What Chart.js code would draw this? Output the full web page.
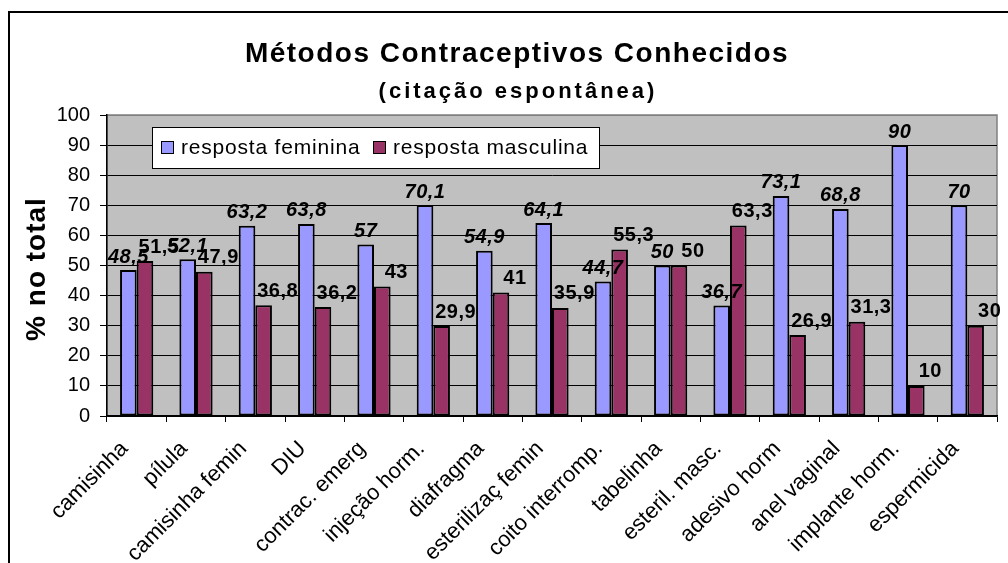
<!DOCTYPE html>
<html>
<head>
<meta charset="utf-8">
<script src="https://cdn.jsdelivr.net/npm/chart.js@4/dist/chart.umd.min.js"></script>
<style>
  html, body { margin: 0; padding: 0; background: #fff; }
  #wrap { width: 1008px; height: 563px; }
</style>
</head>
<body>
<div id="wrap"><canvas id="metodosChart"></canvas></div>
<script>
const FONTE = '"Liberation Sans", Arial, sans-serif';

const categorias = ['camisinha', 'pílula', 'camisinha femin', 'DIU', 'contrac. emerg',
  'injeção horm.', 'diafragma', 'esterilizaç femin', 'coito interromp.', 'tabelinha',
  'esteril. masc.', 'adesivo horm', 'anel vaginal', 'implante horm.', 'espermicida'];
const respFeminina = [48.5, 52.1, 63.2, 63.8, 57, 70.1, 54.9, 64.1, 44.7, 50, 36.7, 73.1, 68.8, 90, 70];
const respMasculina = [51.5, 47.9, 36.8, 36.2, 43, 29.9, 41, 35.9, 55.3, 50, 63.3, 26.9, 31.3, 10, 30];
const yTicks = [0, 10, 20, 30, 40, 50, 60, 70, 80, 90, 100];
const nomesSeries = ['resposta feminina', 'resposta masculina'];
const titulo = 'Métodos Contraceptivos Conhecidos';
const subtitulo = '(citação espontânea)';
const tituloEixoY = '% no total';

const corFem = '#9999ff';
const corMasc = '#993366';

const fmt = v => String(v).replace('.', ',');

// fundo cinza, moldura, títulos, rótulos e legenda desenhados à mão
const extras = {
  id: 'extras',
  beforeDraw(chart) {
    const { ctx, chartArea: a } = chart;
    ctx.save();
    ctx.fillStyle = '#c0c0c0';
    ctx.fillRect(a.left, a.top, a.right - a.left, a.bottom - a.top);
    ctx.strokeStyle = '#808080';
    ctx.lineWidth = 1.5;
    ctx.strokeRect(a.left, a.top, a.right - a.left, a.bottom - a.top);

    ctx.strokeStyle = '#000';
    ctx.lineWidth = 2;
    ctx.strokeRect(9, 12, 1100, 700);

    ctx.fillStyle = '#000';
    ctx.textAlign = 'center';
    ctx.textBaseline = 'alphabetic';
    ctx.letterSpacing = '1.5px';
    ctx.font = 'bold 28px ' + FONTE;
    ctx.fillText(titulo, 517, 62);
    ctx.letterSpacing = '3px';
    ctx.font = 'bold 22px ' + FONTE;
    ctx.fillText(subtitulo, 518, 98);

    ctx.translate(37, 269);
    ctx.rotate(-Math.PI / 2);
    ctx.textBaseline = 'middle';
    ctx.letterSpacing = '1px';
    ctx.font = 'bold 28px ' + FONTE;
    ctx.fillText(tituloEixoY, 0, 0);
    ctx.restore();
  },
  afterDatasetsDraw(chart) {
    const { ctx } = chart;
    ctx.save();
    ctx.fillStyle = '#000';
    ctx.textAlign = 'center';
    ctx.textBaseline = 'middle';
    ctx.letterSpacing = '0.5px';
    chart.getDatasetMeta(0).data.forEach((bar, i) => {
      ctx.font = 'italic bold 20px ' + FONTE;
      ctx.fillText(fmt(respFeminina[i]), bar.x, bar.y - 13);
    });
    chart.getDatasetMeta(1).data.forEach((bar, i) => {
      ctx.font = 'bold 20px ' + FONTE;
      ctx.fillText(fmt(respMasculina[i]), bar.x + 14, bar.y - 14);
    });

    // legenda dentro da área do gráfico
    const lx = 152, ly = 127, lw = 447, lh = 41;
    ctx.fillStyle = '#fff';
    ctx.fillRect(lx, ly, lw, lh);
    ctx.strokeStyle = '#000';
    ctx.lineWidth = 1;
    ctx.strokeRect(lx + 0.5, ly + 0.5, lw, lh);
    ctx.font = '21px ' + FONTE;
    ctx.textAlign = 'left';
    ctx.letterSpacing = '0.8px';
    const itens = [[161, corFem], [373, corMasc]];
    itens.forEach(([x, cor], k) => {
      ctx.fillStyle = cor;
      ctx.fillRect(x, 141, 12, 12);
      ctx.strokeRect(x + 0.5, 141.5, 12, 12);
      ctx.fillStyle = '#000';
      ctx.fillText(nomesSeries[k], x + 20, 148);
    });
    ctx.restore();
  }
};

new Chart(document.getElementById('metodosChart'), {
  type: 'bar',
  data: {
    labels: categorias,
    datasets: [
      { label: nomesSeries[0], data: respFeminina, backgroundColor: corFem,
        borderColor: '#000', borderWidth: 2, borderSkipped: false },
      { label: nomesSeries[1], data: respMasculina, backgroundColor: corMasc,
        borderColor: '#000', borderWidth: 2, borderSkipped: false }
    ]
  },
  options: {
    responsive: true,
    maintainAspectRatio: false,
    animation: false,
    datasets: { bar: { categoryPercentage: 0.56, barPercentage: 1 } },
    layout: { padding: { left: 0, right: 11, top: 115, bottom: 0 } },
    plugins: {
      legend: { display: false },
      title: { display: false },
      tooltip: { enabled: false }
    },
    scales: {
      x: {
        afterFit: s => { s.height = 147; },
        grid: { drawOnChartArea: false, drawTicks: true, tickLength: 6, color: '#000', lineWidth: 1 },
        border: { color: '#000', width: 1.5 },
        ticks: {
          color: '#000', font: { family: FONTE, size: 22 },
          minRotation: 45, maxRotation: 45, autoSkip: false, padding: 14, labelOffset: -12
        }
      },
      y: {
        min: 0, max: 100,
        afterFit: s => { s.width = 107; },
        afterBuildTicks: s => { s.ticks = yTicks.map(v => ({ value: v })); },
        grid: {
          color: c => (c.tick && c.tick.value === 100 ? '#808080' : '#000'),
          tickColor: '#000', tickLength: 7, lineWidth: 1
        },
        border: { color: '#000', width: 1.5 },
        ticks: { color: '#000', font: { family: FONTE, size: 20 }, padding: 10 }
      }
    }
  },
  plugins: [extras]
});
</script>
</body>
</html>
